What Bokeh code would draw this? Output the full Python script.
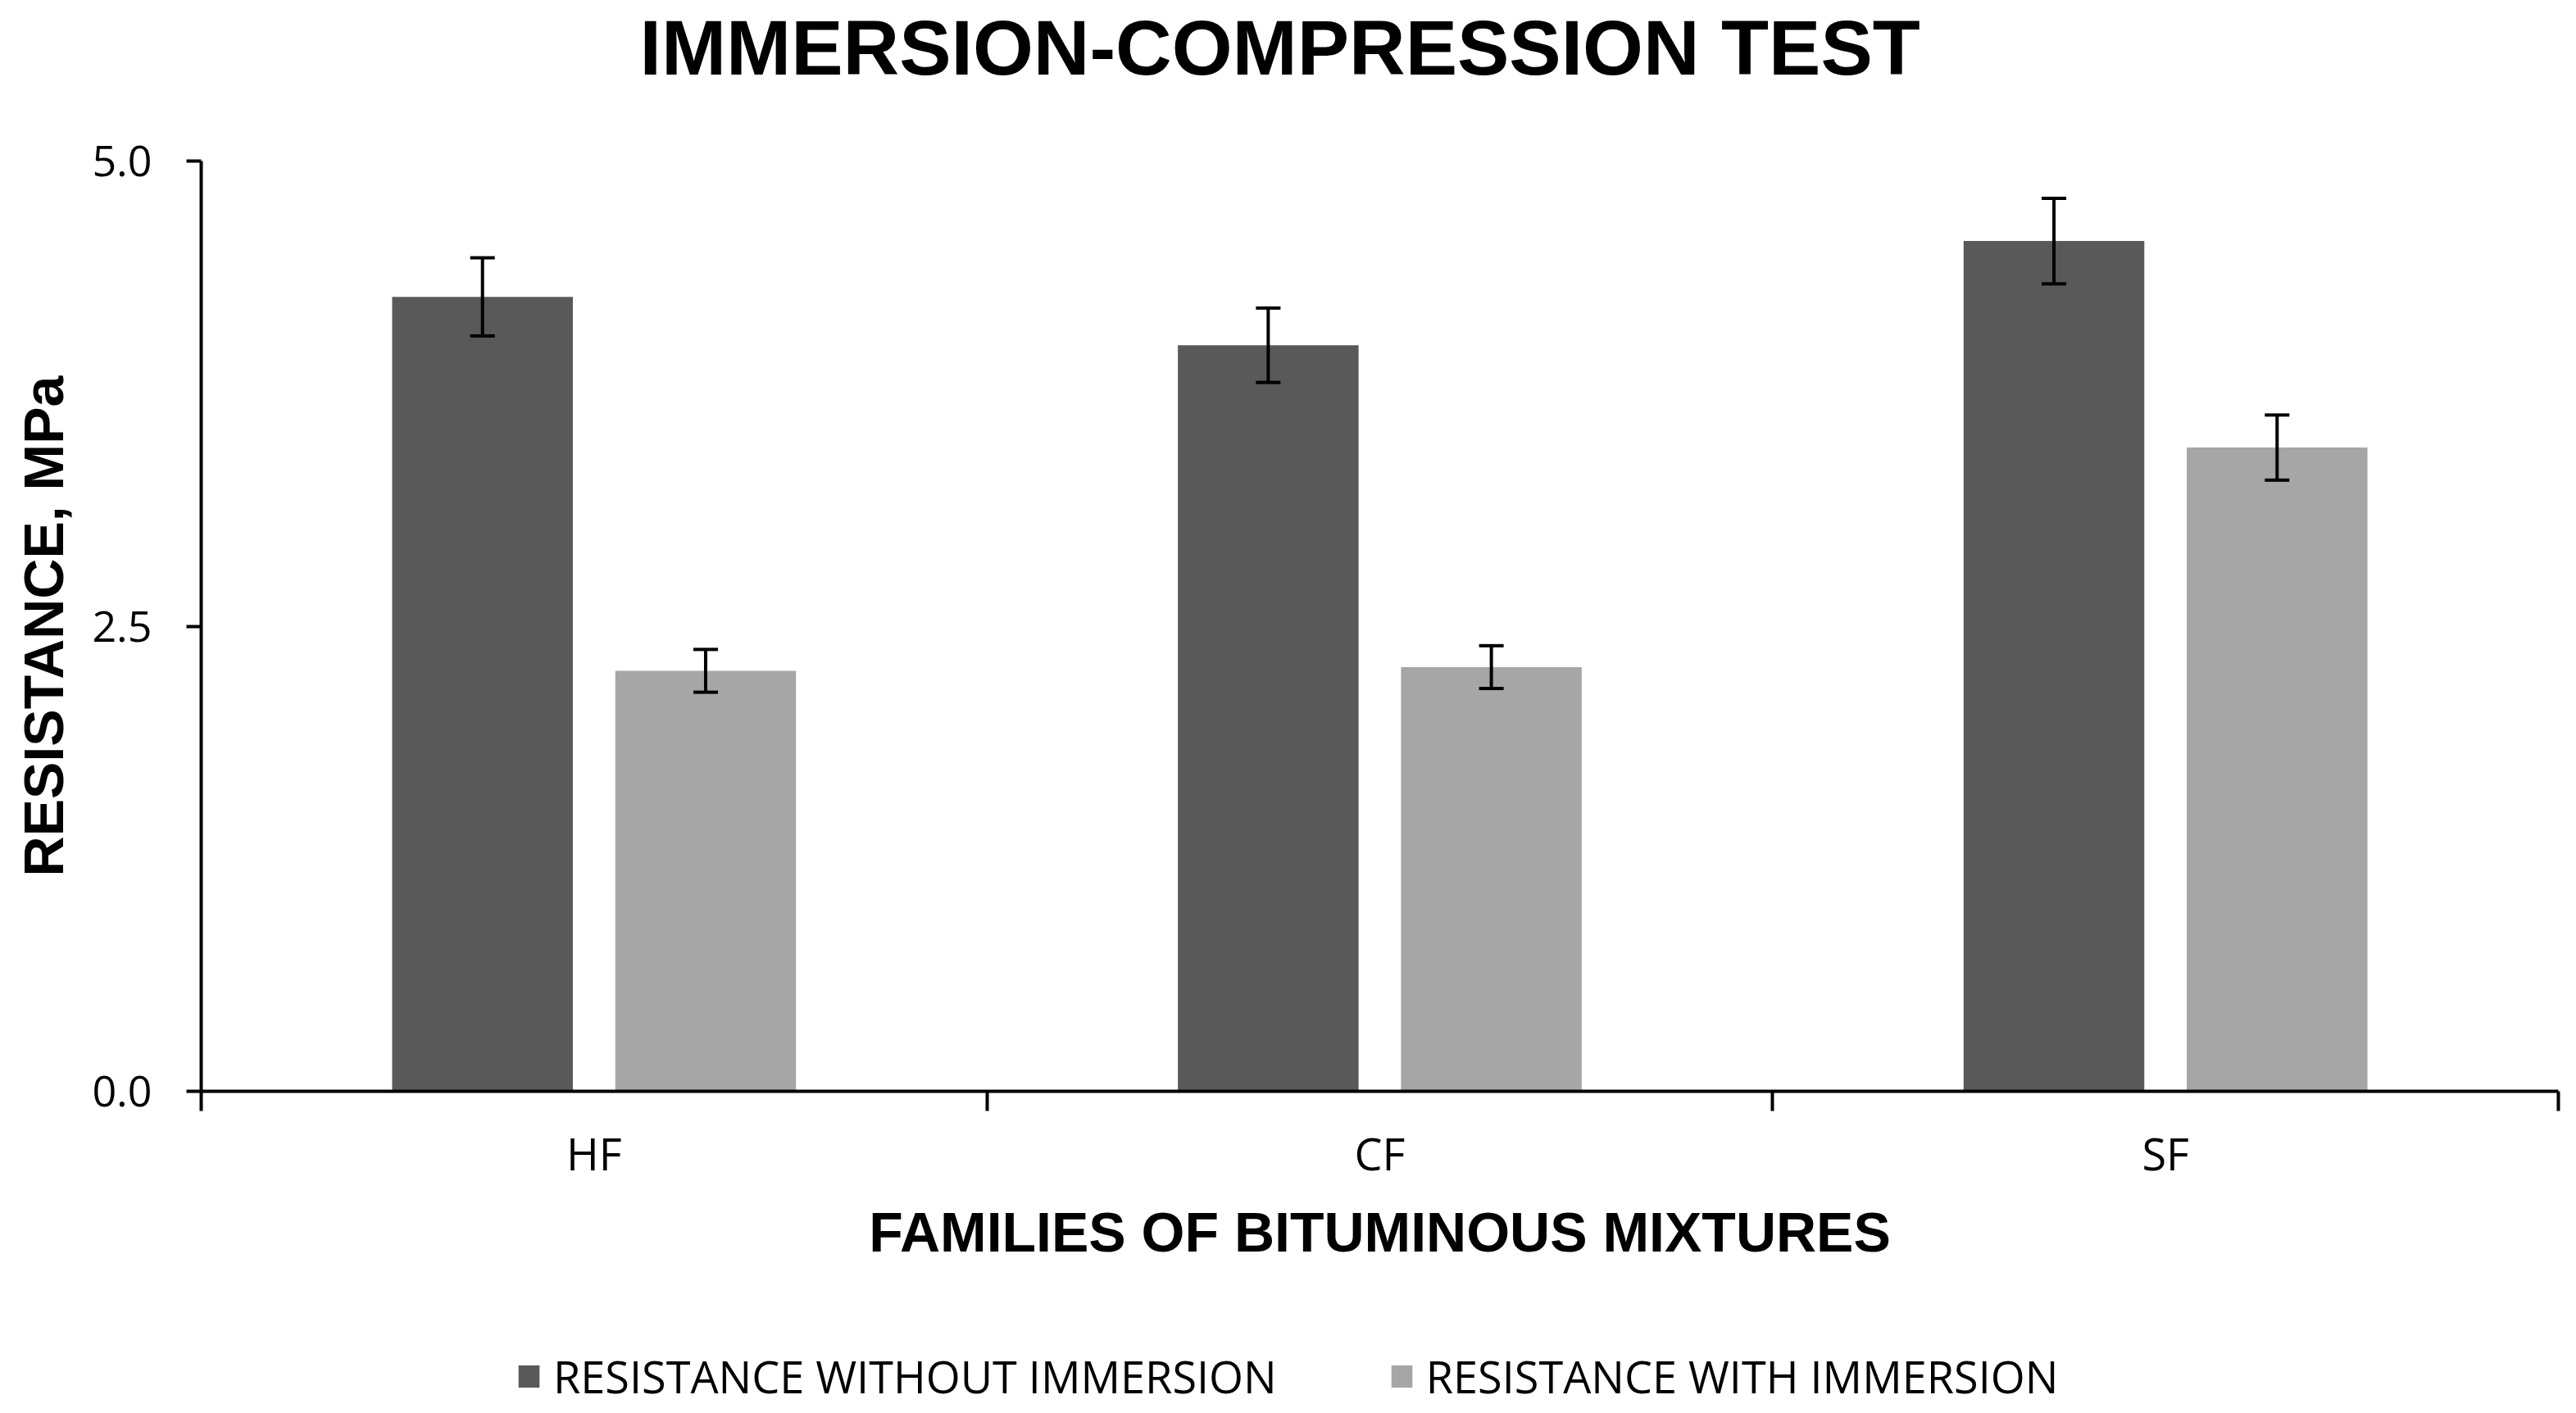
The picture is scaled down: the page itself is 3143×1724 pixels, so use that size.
from bokeh.plotting import figure
from bokeh.layouts import column
from bokeh.models import (ColumnDataSource, Range1d, FixedTicker, Whisker, TeeHead, Title,
                          Legend, LegendItem, CustomJSTickFormatter, NumeralTickFormatter)
from bokeh.embed import file_html
from bokeh.resources import INLINE

# ---- data ----
categories = ["HF", "CF", "SF"]
without_immersion = [4.27, 4.01, 4.57]
without_err = [0.21, 0.20, 0.23]
with_immersion = [2.26, 2.28, 3.46]
with_err = [0.115, 0.115, 0.175]
y_ticks = [0.0, 2.5, 5.0]
series_names = ["RESISTANCE WITHOUT IMMERSION", "RESISTANCE WITH IMMERSION"]
chart_title = "IMMERSION-COMPRESSION TEST"
x_title = "FAMILIES OF BITUMINOUS MIXTURES"
y_title = "RESISTANCE, MPa"

DARK = "#595959"
LIGHT = "#a6a6a6"
OFF = 0.142
BW = 0.23
W = 3127

centers = [i + 0.5 for i in range(len(categories))]
src_a = ColumnDataSource(dict(
    x=[c - OFF for c in centers], top=without_immersion,
    upper=[v + e for v, e in zip(without_immersion, without_err)],
    lower=[v - e for v, e in zip(without_immersion, without_err)]))
src_b = ColumnDataSource(dict(
    x=[c + OFF for c in centers], top=with_immersion,
    upper=[v + e for v, e in zip(with_immersion, with_err)],
    lower=[v - e for v, e in zip(with_immersion, with_err)]))

p = figure(width=W, height=1560, x_range=Range1d(0, len(categories)), y_range=Range1d(0, 5),
           output_backend="svg", toolbar_location=None,
           min_border_left=245, min_border_right=6, min_border_top=196, min_border_bottom=229)
p.background_fill_color = "white"
p.border_fill_color = "white"
p.outline_line_color = None
p.xgrid.visible = False
p.ygrid.visible = False
p.title.text_font_size = "0px"
p.title.standoff = 0

# spacer (closest to frame) then the chart title
p.add_layout(Title(text=" ", text_font_size="2px", standoff=82), "above")
p.add_layout(Title(text=chart_title, align="left", vertical_align="bottom", standoff=0,
                   offset=535,
                   text_font="Liberation Sans", text_font_style="bold",
                   text_font_size="95px", text_color="black"), "above")

r1 = p.vbar(x="x", top="top", width=BW, bottom=0, source=src_a, fill_color=DARK, line_color=None)
r2 = p.vbar(x="x", top="top", width=BW, bottom=0, source=src_b, fill_color=LIGHT, line_color=None)

for s in (src_a, src_b):
    w = Whisker(base="x", upper="upper", lower="lower", source=s, line_width=4, line_color="black",
                level="overlay",
                upper_head=TeeHead(size=30, line_width=4, line_color="black"),
                lower_head=TeeHead(size=30, line_width=4, line_color="black"))
    p.add_layout(w)

# y axis
ya = p.yaxis[0]
ya.ticker = FixedTicker(ticks=y_ticks)
ya.formatter = NumeralTickFormatter(format="0.0")
ya.axis_line_width = 4
ya.axis_line_color = "black"
ya.major_tick_line_width = 4
ya.major_tick_line_color = "black"
ya.major_tick_out = 18
ya.major_tick_in = 0
ya.minor_tick_line_color = None
ya.major_label_text_font = "Open Sans"
ya.major_label_text_font_size = "52px"
ya.major_label_text_color = "black"
ya.major_label_standoff = 42
ya.axis_label = y_title
ya.axis_label_text_font = "Liberation Sans"
ya.axis_label_text_font_style = "bold"
ya.axis_label_text_font_size = "68px"
ya.axis_label_text_color = "black"
ya.axis_label_standoff = 18

# x axis
xa = p.xaxis[0]
xa.ticker = FixedTicker(ticks=centers, minor_ticks=list(range(len(categories) + 1)))
xa.formatter = CustomJSTickFormatter(args=dict(cats=categories),
                                     code="return cats[Math.floor(tick)];")
xa.axis_line_width = 4
xa.axis_line_color = "black"
xa.major_tick_line_color = None
xa.major_tick_out = 0
xa.major_tick_in = 0
xa.minor_tick_line_color = "black"
xa.minor_tick_line_width = 4
xa.minor_tick_out = 24
xa.minor_tick_in = 0
xa.major_label_text_font = "Open Sans"
xa.major_label_text_font_size = "54px"
xa.major_label_text_color = "black"
xa.major_label_standoff = 14
xa.axis_label = x_title
xa.axis_label_text_font = "Liberation Sans"
xa.axis_label_text_font_style = "bold"
xa.axis_label_text_font_size = "68px"
xa.axis_label_text_color = "black"
xa.axis_label_standoff = 18

# legend strip below the chart
lf = figure(width=W, height=156, x_range=Range1d(0, 1), y_range=Range1d(0, 1),
            x_axis_type=None, y_axis_type=None, toolbar_location=None,
            output_backend="svg", min_border=0)
lf.outline_line_color = None
lf.background_fill_color = "white"
lf.border_fill_color = "white"
lr1 = lf.vbar(x="x", top="top", width=BW, bottom=0, source=src_a, fill_color=DARK,
              line_color=None, visible=False)
lr2 = lf.vbar(x="x", top="top", width=BW, bottom=0, source=src_b, fill_color=LIGHT,
              line_color=None, visible=False)

legend = Legend(items=[LegendItem(label=series_names[0], renderers=[lr1]),
                       LegendItem(label=series_names[1], renderers=[lr2])],
                orientation="horizontal", location=(384, 0))
legend.glyph_width = 32
legend.glyph_height = 34
legend.label_standoff = 14
legend.spacing = 136
legend.label_text_font = "Open Sans"
legend.label_text_font_size = "54px"
legend.label_text_color = "black"
legend.border_line_color = None
legend.background_fill_alpha = 0
legend.inactive_fill_alpha = 0
legend.margin = 0
legend.padding = 0
lf.add_layout(legend)

layout = column(p, lf, spacing=0)
open("out.html", "w").write(file_html(layout, INLINE))
